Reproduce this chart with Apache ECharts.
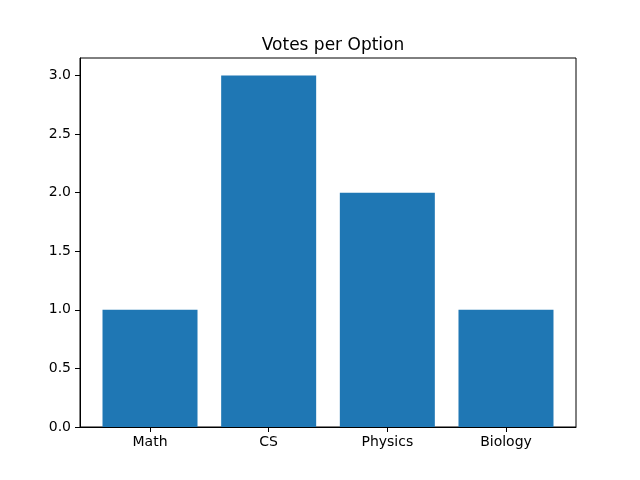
<!DOCTYPE html>
<html>
<head>
<meta charset="utf-8">
<script src="https://cdn.jsdelivr.net/npm/echarts@6/dist/echarts.min.js"></script>
</head>
<body style="margin:0">
<div id="main" style="width: 640px;height:480px;"></div>
<script type="text/javascript">
    // data
    var categories = ['Math', 'CS', 'Physics', 'Biology'];
    var votes = [1, 3, 2, 1];
    var yTicks = [0, 0.5, 1.0, 1.5, 2.0, 2.5, 3.0];
    var xTicks = [0, 1, 2, 3];

    var myChart = echarts.init(document.getElementById('main'));
    var font = 'DejaVu Sans';

    var option = {
        animation: false,
        backgroundColor: '#ffffff',
        title: {
            text: 'Votes per Option',
            left: 328,
            top: 32,
            textAlign: 'center',
            textStyle: { fontFamily: font, fontSize: 17, fontWeight: 'normal', color: '#000' }
        },
        grid: {
            left: 80, right: 64, top: 58, bottom: 53,
            show: true, borderColor: '#000', borderWidth: 1
        },
        xAxis: {
            type: 'value',
            min: -0.59,
            max: 3.59,
            splitLine: { show: false },
            axisLine: { show: true, onZero: false, lineStyle: { color: '#000', width: 1 } },
            axisTick: { show: true, length: 5, customValues: xTicks, lineStyle: { color: '#000' } },
            axisLabel: {
                customValues: xTicks,
                formatter: function (v) { return categories[Math.round(v)]; },
                fontFamily: font, fontSize: 14, color: '#000', margin: 8
            }
        },
        yAxis: {
            type: 'value',
            min: 0,
            max: 3.15,
            splitLine: { show: false },
            axisLine: { show: true, onZero: false, lineStyle: { color: '#000', width: 1 } },
            axisTick: { show: true, length: 5, customValues: yTicks, lineStyle: { color: '#000' } },
            axisLabel: {
                customValues: yTicks,
                formatter: function (v) { return v.toFixed(1); },
                fontFamily: font, fontSize: 14, color: '#000', margin: 9
            }
        },
        series: [{
            type: 'bar',
            data: categories.map(function (c, i) { return [i, votes[i]]; }),
            barWidth: 95,
            itemStyle: { color: '#1f77b4' }
        }]
    };

    myChart.setOption(option);
</script>
</body>
</html>
